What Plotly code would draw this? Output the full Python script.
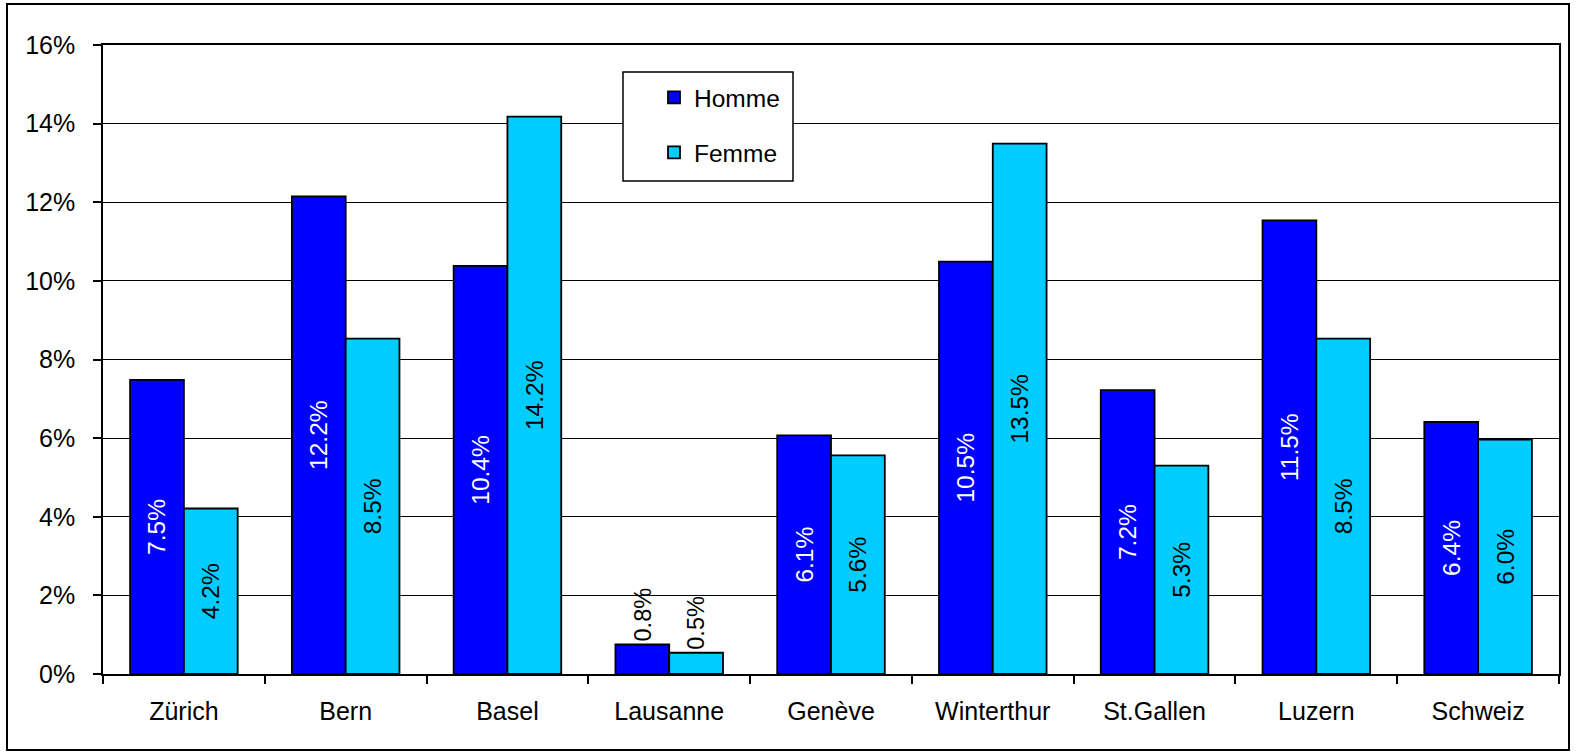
import plotly.graph_objects as go

cities = ["Zürich", "Bern", "Basel", "Lausanne", "Genève", "Winterthur", "St.Gallen", "Luzern", "Schweiz"]
homme = [7.48, 12.15, 10.38, 0.75, 6.07, 10.49, 7.22, 11.54, 6.41]
femme = [4.21, 8.53, 14.18, 0.54, 5.56, 13.49, 5.30, 8.53, 5.96]
homme_labels = ["7.5%", "12.2%", "10.4%", "0.8%", "6.1%", "10.5%", "7.2%", "11.5%", "6.4%"]
femme_labels = ["4.2%", "8.5%", "14.2%", "0.5%", "5.6%", "13.5%", "5.3%", "8.5%", "6.0%"]
y_ticks = [0, 2, 4, 6, 8, 10, 12, 14, 16]
y_ticklabels = ["0%", "2%", "4%", "6%", "8%", "10%", "12%", "14%", "16%"]

FONT = "Liberation Sans, Arial, sans-serif"
FS_AX = 25
FS = 24.5

W, H = 1577, 752
L, R, T, B = 103, 1559, 45, 674
pw, ph = R - L, B - T


def px_x(x):
    return (x - L) / pw


def px_y(y):
    return (B - y) / ph


positions = ["outside" if v < 2 else "inside" for v in homme]

fig = go.Figure()
fig.add_trace(go.Bar(
    name="Homme", x=cities, y=homme, text=homme_labels,
    textposition=positions, textangle=-90, insidetextanchor="middle",
    insidetextfont=dict(color="white", size=FS, family=FONT),
    outsidetextfont=dict(color="black", size=FS, family=FONT),
    marker=dict(color="#0000FF", line=dict(color="black", width=1.8)),
    legendgroup="h", cliponaxis=False, hoverinfo="skip",
))
fig.add_trace(go.Bar(
    name="Femme", x=cities, y=femme, text=femme_labels,
    textposition=positions, textangle=-90, insidetextanchor="middle",
    insidetextfont=dict(color="black", size=FS, family=FONT),
    outsidetextfont=dict(color="black", size=FS, family=FONT),
    marker=dict(color="#00CCFF", line=dict(color="black", width=1.8)),
    legendgroup="f", cliponaxis=False, hoverinfo="skip",
))

shapes = [
    # outer frame
    dict(type="rect", xref="paper", yref="paper",
         x0=px_x(7), x1=px_x(1569), y0=px_y(750), y1=px_y(4),
         line=dict(color="black", width=2), fillcolor="rgba(0,0,0,0)", layer="above"),
    # legend box
    dict(type="rect", xref="paper", yref="paper",
         x0=px_x(623), x1=px_x(793), y0=px_y(181), y1=px_y(72),
         line=dict(color="black", width=1.5), fillcolor="white", layer="above"),
]

fig.update_layout(
    width=W, height=H,
    margin=dict(l=L, r=W - R, t=T, b=H - B, pad=0),
    paper_bgcolor="white", plot_bgcolor="white",
    font=dict(family=FONT, size=FS, color="black"),
    barmode="group", bargap=0.335, bargroupgap=0,
    shapes=shapes,
    showlegend=True,
    legend=dict(x=px_x(654), y=px_y(75), xanchor="left", yanchor="top",
                bgcolor="rgba(0,0,0,0)", borderwidth=0,
                font=dict(family=FONT, size=FS, color="black"),
                tracegroupgap=20, traceorder="grouped"),
    xaxis=dict(type="category", showline=True, linecolor="black", linewidth=1.5,
               mirror=True, ticks="outside", tickson="boundaries", ticklen=8,
               tickcolor="black", tickwidth=1.5, showgrid=False,
               tickfont=dict(family=FONT, size=FS_AX, color="black"), ticklabelstandoff=14),
    yaxis=dict(range=[0, 16], tickvals=y_ticks, ticktext=y_ticklabels,
               showline=True, linecolor="black", linewidth=1.5, mirror=True,
               ticks="outside", ticklen=8, tickcolor="black", tickwidth=1.5,
               showgrid=True, gridcolor="black", gridwidth=1.2, zeroline=False,
               tickfont=dict(family=FONT, size=FS_AX, color="black"), ticklabelstandoff=13),
)

fig.write_html(
    "out.html",
    config={"displayModeBar": False},
    post_script="document.body.style.margin='0';document.body.style.overflow='hidden';",
)
